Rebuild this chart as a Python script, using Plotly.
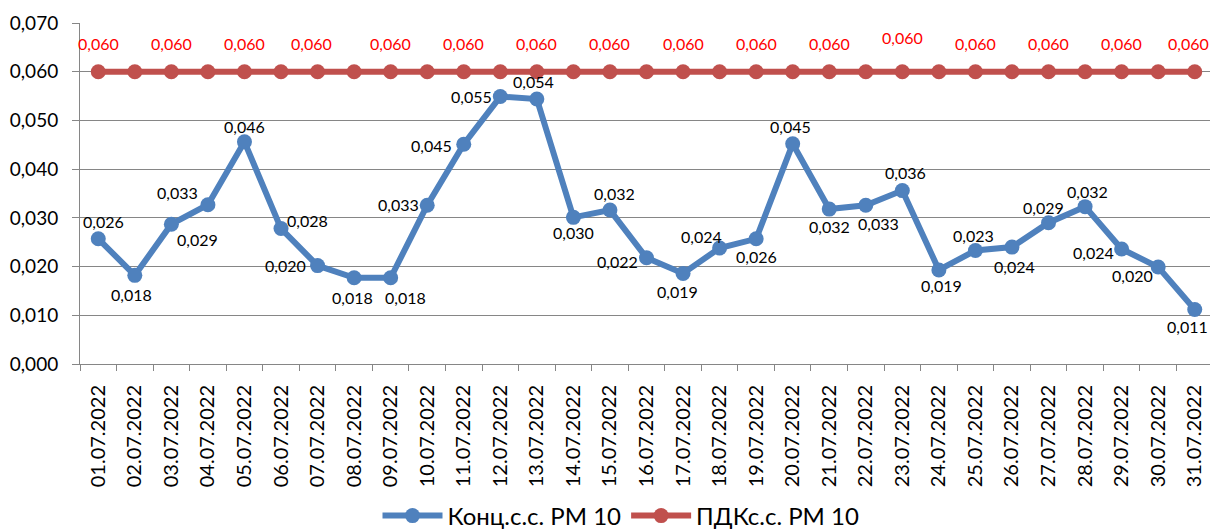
import plotly.graph_objects as go

dates = [f"{d:02d}.07.2022" for d in range(1, 32)]
conc = [0.0257, 0.0182, 0.0287, 0.0327, 0.0456, 0.0278, 0.0202, 0.0177, 0.0177, 0.0326,
        0.0451, 0.0549, 0.0544, 0.0301, 0.0316, 0.0218, 0.0186, 0.0238, 0.0257, 0.0452,
        0.0318, 0.0326, 0.0356, 0.0193, 0.0233, 0.0240, 0.0290, 0.0323, 0.0236, 0.0199,
        0.0112]
pdk = [0.060] * 31
name_conc = "Конц.с.с. РМ 10"
name_pdk = "ПДКс.с. РМ 10"

# label offsets (pixels, dx right, dy down) for the blue series labels
conc_label_offsets = [(5, -17), (-3, 19), (26, 15), (-30, -12), (0, -15), (26, -8), (-32, 0),
                      (-2, 20), (15, 20), (-29, -1), (-32, 1), (-29, 0), (-3, -17), (0, 15),
                      (5, -17), (-29, 4), (-6, 18), (-18, -12), (0, 18), (-2, -17), (0, 17),
                      (13, 18), (3, -18), (3, 16), (-2, -15), (3, 19), (-5, -15), (2, -15),
                      (-28, 3), (-26, 8), (-7, 17)]

BLUE = "#4F81BD"
RED = "#C0504D"
FONT = "Lato"

def fmt(v):
    return f"{v:.3f}".replace(".", ",")

fig = go.Figure()
fig.add_trace(go.Scatter(x=dates, y=conc, name=name_conc, mode="lines+markers",
                         line=dict(color=BLUE, width=6), marker=dict(color=BLUE, size=15)))
fig.add_trace(go.Scatter(x=dates, y=pdk, name=name_pdk, mode="lines+markers",
                         line=dict(color=RED, width=6), marker=dict(color=RED, size=15)))

annotations = []
for i, (d, v) in enumerate(zip(dates, conc)):
    dx, dy = conc_label_offsets[i]
    annotations.append(dict(x=d, y=v, text=fmt(v), showarrow=False, xshift=dx, yshift=-dy,
                            font=dict(family=FONT, size=16, color="#000000")))
for i, (d, v) in enumerate(zip(dates, pdk)):
    if i % 2 == 0:
        ys = 34 if i == 22 else 28
        xs = -6 if i in (6, 30) else 0
        annotations.append(dict(x=d, y=v, text=fmt(v), showarrow=False, xshift=xs, yshift=ys,
                                font=dict(family=FONT, size=16, color="#FF0000")))

fig.update_layout(
    width=1218, height=521,
    margin=dict(l=72, r=13, t=15, b=165),
    paper_bgcolor="white", plot_bgcolor="white",
    separators=", ",
    font=dict(family=FONT, color="#000000"),
    annotations=annotations,
    showlegend=True,
    legend=dict(orientation="h", xref="paper", yref="container",
                x=0.4775, xanchor="center", y=0.025, yanchor="middle",
                font=dict(family=FONT, size=24), itemwidth=60),
)
fig.update_xaxes(type="category", range=[-0.5, 30.5], automargin=False,
                 showgrid=False, showline=True, linecolor="#868686", linewidth=1,
                 ticks="outside", tickson="boundaries", ticklen=6, tickcolor="#868686",
                 tickangle=-90, tickfont=dict(family=FONT, size=20), ticklabelstandoff=12)
fig.update_yaxes(range=[0, 0.07], dtick=0.01, tickformat=".3f", automargin=False,
                 showgrid=True, gridcolor="#868686",
                 gridwidth=1, showline=True, linecolor="#868686", linewidth=1, zeroline=False,
                 ticks="outside", ticklen=7, tickcolor="#868686",
                 tickfont=dict(family=FONT, size=19), ticklabelstandoff=10)

fig.write_html("out.html")
